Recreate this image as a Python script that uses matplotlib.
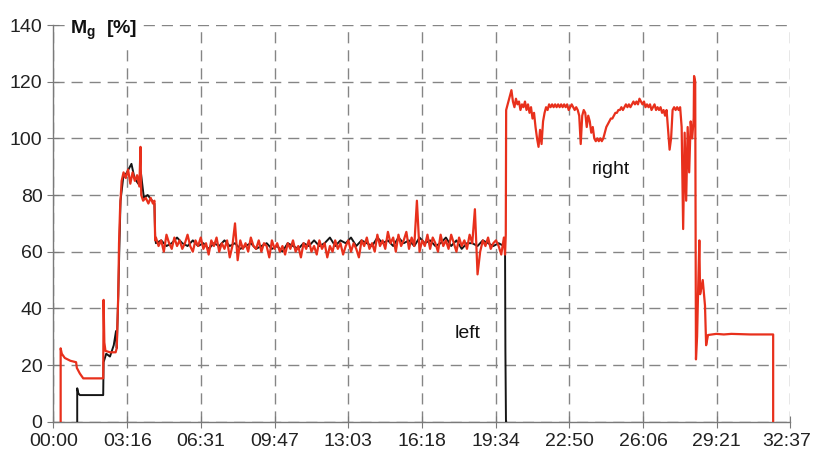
import numpy as np
import matplotlib
matplotlib.use("Agg")
import matplotlib.pyplot as plt
import matplotlib.transforms as mtransforms

plt.rcParams['font.family'] = ['Liberation Sans', 'DejaVu Sans']
plt.rcParams['mathtext.fontset'] = 'custom'
plt.rcParams['mathtext.rm'] = 'Liberation Sans'
plt.rcParams['mathtext.bf'] = 'Liberation Sans:bold'

# time axis: seconds, ticks every 1957/10 s
tick_labels = ['00:00', '03:16', '06:31', '09:47', '13:03', '16:18',
               '19:34', '22:50', '26:06', '29:21', '32:37']
t_end = 1957

# --- right (red) ---
red_start_t = [19, 19, 22, 30, 45, 60, 62, 70, 79, 132, 133, 135, 138, 150, 165,
               168, 172, 174, 177, 181, 186, 192, 198, 204, 210, 216, 222, 228,
               231, 233, 238, 245, 252, 258, 264, 268, 270]
red_start_v = [0, 25.9, 24, 22.5, 21.5, 21, 19, 17, 15.3, 15.3, 43, 28, 25, 24.5, 24.5,
               26, 45, 63, 76, 85, 88, 86, 89, 84, 88, 85, 87, 83,
               97, 80, 78, 79, 77, 79, 77, 78, 64]

# plateau sampled every 7 s from 272 s
red_plateau_t0 = 272
red_plateau_dt = 7
red_plateau = [65, 62, 64, 60, 66, 63, 61, 65, 62, 64,
               61, 63, 66, 62, 60, 64, 62, 65, 61, 63,
               59, 64, 62, 65, 60, 63, 61, 64, 58, 62,
               70, 57, 64, 61, 63, 60, 65, 62, 61, 64,
               60, 63, 62, 58, 64, 61, 63, 60, 62, 59,
               63, 61, 64, 60, 62, 58, 63, 61, 64, 60,
               62, 59, 64, 61, 63, 58, 62, 60, 64, 61,
               63, 59, 62, 64, 60, 63, 61, 58, 64, 62,
               65, 61, 63, 60, 66, 62, 64, 61, 67, 63,
               65, 60, 66, 62, 64, 67, 61, 65, 62, 78,
               60, 64, 62, 66, 61, 65, 63, 60, 66, 62,
               64, 61, 66, 63, 60, 65, 62, 64, 61, 66,
               63, 75, 52, 60, 64, 62, 65, 61, 63, 64,
               62, 59, 65]

red_jump_t = [1199, 1201, 1202]
red_jump_v = [59, 66, 110]

# right-hand phase sampled every 4 s from 1204 s
red_right_t0 = 1204
red_right_dt = 4
red_right = [111, 113, 115, 117, 113, 111, 114, 112, 113, 110,
             112, 111, 113, 110, 112, 109, 111, 107, 109, 104,
             100, 97, 103, 98, 106, 109, 111, 110, 112, 111,
             112, 111, 112, 111, 112, 111, 112, 111, 112, 111,
             112, 110, 111, 112, 111, 110, 111, 110, 108, 98,
             108, 110, 109, 104, 108, 106, 102, 104, 100, 99,
             100, 99, 100, 99, 100, 102, 104, 105, 106, 107,
             107, 108, 109, 109, 110, 110, 111, 110, 111, 112,
             111, 112, 111, 112, 113, 112, 113, 112, 114, 113,
             112, 113, 111, 112, 111, 112, 110, 111, 112, 110,
             111, 110, 111, 109, 110, 108, 110, 103, 96, 100,
             110, 111, 110, 111, 110, 111, 104, 68, 102, 78,
             104, 88, 106, 100, 107]

red_end_t = [1701, 1704, 1706, 1709, 1712, 1715, 1717, 1720, 1724,
             1728, 1730, 1733, 1738, 1760, 1780, 1800, 1850, 1911, 1911]
red_end_v = [122, 120, 22, 30, 48, 64, 45, 47, 50,
             44, 41, 27, 30.6, 31, 30.8, 31, 30.8, 30.8, 0]

# --- left (black) ---
black_start_t = [63, 63, 66, 70, 132, 133, 140, 150, 160, 166, 168, 172, 175, 178,
                 185, 195, 207, 215, 225, 232, 240, 250, 262, 268, 270]
black_start_v = [0, 11.8, 10, 9.4, 9.4, 21, 24, 23, 27, 32, 26, 45, 62, 78,
                 86, 88, 91, 86, 84, 88, 79, 80, 78, 77, 65]

black_plateau_t0 = 272
black_plateau_dt = 14
black_plateau = [63, 64, 62, 63, 65, 63, 62, 64, 62, 63,
                 61, 63, 62, 64, 62, 63, 61, 62, 63, 61,
                 62, 63, 61, 62, 60, 63, 62, 61, 63, 62,
                 64, 62, 63, 65, 62, 64, 63, 65, 62, 64,
                 63, 62, 65, 63, 64, 62, 65, 63, 64, 62,
                 65, 63, 64, 62, 63, 65, 62, 64, 61, 63,
                 63, 62, 64, 63, 62, 63, 62]

black_end_t = [1199, 1200, 1201.5, 1202]
black_end_v = [63, 25, 0, 0]

# assemble series
red_t = np.concatenate([red_start_t,
                        red_plateau_t0 + red_plateau_dt * np.arange(len(red_plateau)),
                        red_jump_t,
                        red_right_t0 + red_right_dt * np.arange(len(red_right)),
                        red_end_t])
red_v = np.concatenate([red_start_v, red_plateau, red_jump_v, red_right, red_end_v])
black_t = np.concatenate([black_start_t,
                          black_plateau_t0 + black_plateau_dt * np.arange(len(black_plateau)),
                          black_end_t])
black_v = np.concatenate([black_start_v, black_plateau, black_end_v])

fig = plt.figure(figsize=(8.13, 4.54), dpi=100)
ax = fig.add_axes([0.0658, 0.0711, 0.9065, 0.8738])

ax.plot(black_t, black_v, color='#151515', lw=1.4, zorder=3)
ax.plot(red_t, red_v, color='#e8301c', lw=1.6, zorder=4)

ax.set_xlim(0, t_end)
ax.set_ylim(0, 140)
ax.set_xticks(np.linspace(0, t_end, 11))
ax.set_xticklabels(tick_labels)
ax.set_yticks(range(0, 141, 20))

ax.grid(True, color='#858585', linestyle=(0, (8, 5)), linewidth=1.0)
ax.set_axisbelow(True)
for side in ['top', 'right']:
    ax.spines[side].set_visible(False)
for side in ['left', 'bottom']:
    ax.spines[side].set_color('#7a7a7a')
    ax.spines[side].set_linewidth(1.0)
ax.tick_params(direction='inout', length=8, color='#7a7a7a', labelsize=14,
               labelcolor='#222222', pad=4)

# nudge the last time label so it stays inside the figure
last = ax.get_xticklabels()[-1]
last.set_transform(last.get_transform() +
                   mtransforms.ScaledTranslation(-4 / 100, 0, fig.dpi_scale_trans))

ax.text(44, 138, r'$\mathbf{M_g}$  [%]', fontsize=14, fontweight='bold',
        va='center', ha='left', color='#111111', clip_on=False,
        bbox=dict(facecolor='white', edgecolor='none', pad=1))
ax.text(1100, 31, 'left', fontsize=14, ha='center', va='center', color='#111111')
ax.text(1480, 89, 'right', fontsize=14, ha='center', va='center', color='#111111')

fig.savefig('out.png', dpi=100)
